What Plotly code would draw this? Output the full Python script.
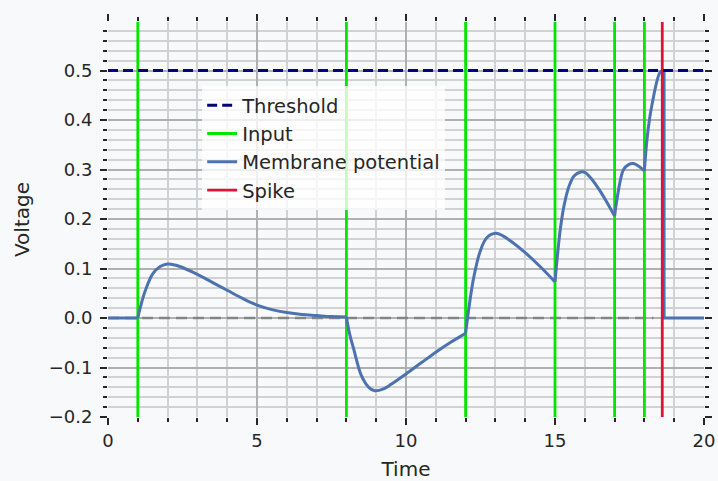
import plotly.graph_objects as go

# ---- data ----
input_times = [1, 8, 12, 15, 17, 18]
spike_time = 18.6
threshold = 0.5

t_mem = [0.0, 1.0, 1.1, 1.25, 1.5, 1.75, 2.0, 2.25, 2.5, 3.0, 3.5, 4.0, 4.5, 5.0,
         5.5, 6.0, 6.5, 7.0, 7.5, 8.0,
         8.1, 8.25, 8.5, 8.75, 8.95, 9.25, 9.5, 10.0, 10.5, 11.0, 11.5, 12.0,
         12.15, 12.28, 12.49, 12.71, 13.02, 13.25, 13.5, 14.0, 14.5, 15.0,
         15.08, 15.18, 15.3, 15.47, 15.64, 15.86, 16.0, 16.2, 16.5, 16.75, 17.0,
         17.08, 17.2, 17.3, 17.47, 17.63, 17.8, 18.0,
         18.08, 18.18, 18.3, 18.41, 18.52, 18.6, 18.66, 18.66, 20.0]
v_mem = [0.0, 0.0, 0.025, 0.055, 0.089, 0.104, 0.109, 0.107, 0.102, 0.088, 0.072, 0.056, 0.040, 0.026,
         0.017, 0.011, 0.007, 0.005, 0.003, 0.002,
         -0.030, -0.064, -0.116, -0.140, -0.147, -0.143, -0.134, -0.113, -0.091, -0.069, -0.049, -0.031,
         0.037, 0.084, 0.135, 0.162, 0.171, 0.166, 0.156, 0.132, 0.104, 0.073,
         0.125, 0.180, 0.226, 0.266, 0.287, 0.295, 0.294, 0.283, 0.258, 0.233, 0.206,
         0.240, 0.280, 0.300, 0.310, 0.312, 0.307, 0.297,
         0.357, 0.405, 0.445, 0.476, 0.496, 0.500, 0.501, 0.0, 0.0]

x_range = [0, 20]
y_range = [-0.2, 0.598]
zero_line_end = 18.3
reset_time = 18.66

fig = go.Figure()

# zero reference line
fig.add_trace(go.Scatter(x=[0, zero_line_end], y=[0, 0], mode="lines",
                         line=dict(color="rgba(128,128,128,0.9)", width=2.6, dash="11px,6px"),
                         showlegend=False, hoverinfo="skip"))

# input lines
xi, yi = [], []
for t in input_times:
    xi += [t, t, None]
    yi += [y_range[0], y_range[1], None]
fig.add_trace(go.Scatter(x=xi, y=yi, mode="lines", name="Input",
                         line=dict(color="#00e600", width=2.8), legendrank=2))

# membrane potential: smooth pieces between input events (sharp kinks at inputs),
# straight reset drop and flat tail after the spike
bounds = [x_range[0]] + input_times + [reset_time]
first = True
for a, b in zip(bounds[:-1], bounds[1:]):
    idx = [i for i, t in enumerate(t_mem) if a <= t <= b]
    if b == reset_time:
        idx = [i for i in idx if not (t_mem[i] == reset_time and v_mem[i] == 0.0)]
    xs = [t_mem[i] for i in idx]
    ys = [v_mem[i] for i in idx]
    fig.add_trace(go.Scatter(x=xs, y=ys, mode="lines", name="Membrane potential",
                             legendgroup="mem", showlegend=first, legendrank=3,
                             line=dict(color="#4c72b0", width=3, shape="spline", smoothing=1.0)))
    first = False
tail = [i for i, t in enumerate(t_mem) if t >= reset_time]
fig.add_trace(go.Scatter(x=[t_mem[i] for i in tail], y=[v_mem[i] for i in tail], mode="lines",
                         name="Membrane potential", legendgroup="mem", showlegend=False,
                         line=dict(color="#4c72b0", width=3)))

# spike
fig.add_trace(go.Scatter(x=[spike_time, spike_time], y=y_range, mode="lines", name="Spike",
                         line=dict(color="#dc143c", width=2.8), legendrank=4))

# threshold
fig.add_trace(go.Scatter(x=x_range, y=[threshold, threshold], mode="lines", name="Threshold",
                         line=dict(color="#000080", width=3, dash="10px,5px"), legendrank=1))

tickfont = dict(family="DejaVu Sans", size=18, color="#262626")
common = dict(
    ticks="outside", ticklen=7, tickwidth=2, tickcolor="#262626",
    mirror="ticks", showline=False, zeroline=False,
    showgrid=True, gridcolor="#b0b0b0", gridwidth=1.8,
    tickfont=tickfont,
)

fig.update_xaxes(range=x_range, dtick=5, tick0=0,
                 minor=dict(dtick=1, ticks="outside", ticklen=4, tickwidth=1.5,
                            tickcolor="#262626", showgrid=True, gridcolor="#d2d2d2", gridwidth=1.7),
                 title=dict(text="Time", font=dict(family="DejaVu Sans", size=20, color="#262626"),
                            standoff=15),
                 **common)
fig.update_yaxes(range=y_range, dtick=0.1, tick0=0, tickformat=".1f",
                 minor=dict(dtick=0.02, ticks="outside", ticklen=4, tickwidth=1.5,
                            tickcolor="#262626", showgrid=True, gridcolor="#d2d2d2", gridwidth=1.7),
                 title=dict(text="Voltage", font=dict(family="DejaVu Sans", size=20, color="#262626"),
                            standoff=13),
                 ticklabelstandoff=4,
                 **common)

fig.update_layout(
    width=718, height=481,
    margin=dict(l=107.5, r=14, t=22, b=64, autoexpand=False),
    paper_bgcolor="#f8f9fb", plot_bgcolor="#f8f9fb",
    font=dict(family="DejaVu Sans", color="#262626"),
    showlegend=True,
    legend=dict(x=0.158, y=0.838, xanchor="left", yanchor="top",
                bgcolor="rgba(255,255,255,0.78)", borderwidth=0,
                font=dict(family="DejaVu Sans", size=19.5, color="#262626"),
                itemwidth=30, traceorder="normal"),
)

fig.write_html("out.html", config={"displayModeBar": False},
               post_script="document.body.style.margin='0';")
